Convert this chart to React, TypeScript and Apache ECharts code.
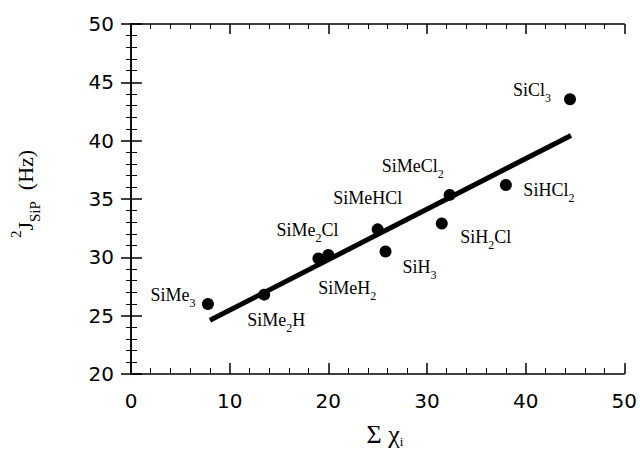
import React, { useEffect, useRef } from "react";
import * as echarts from "echarts";

// Data
const compounds = ["SiMe3", "SiMe2H", "SiMe2Cl", "SiMeH2", "SiMeHCl", "SiH3", "SiH2Cl", "SiMeCl2", "SiHCl2", "SiCl3"];
const sumChi = [7.8, 13.5, 19.0, 20.0, 25.0, 25.8, 31.5, 32.3, 38.0, 44.5];
const jSiP = [26.0, 26.8, 29.9, 30.2, 32.4, 30.5, 32.9, 35.35, 36.2, 43.55];
const fitX = [8.0, 44.6];
const fitY = [24.6, 40.45];
const xTicks = [0, 10, 20, 30, 40, 50];
const yTicks = [20, 25, 30, 35, 40, 45, 50];

// label layout (pixel offsets from each point)
const labelOffsets: [number, number][] = [
  [-35, -9], [12, 25], [-11, -29], [19, 33], [-10, -31],
  [34, 15], [44, 13], [-37, -29], [43, 5], [-38, -9],
];

const SERIF = "'Liberation Serif', 'Times New Roman', serif";
const SANS = "'DejaVu Sans', 'Liberation Sans', sans-serif";

const subify = (s: string) => s.replace(/(\d)/g, "{s|$1}");

function makeAxis(kind: "x" | "y", pos: string, primary: boolean) {
  const ticks = kind === "x" ? xTicks : yTicks;
  return {
    type: "value",
    position: pos,
    min: ticks[0],
    max: ticks[ticks.length - 1],
    interval: ticks[1] - ticks[0],
    axisLine: { show: true, lineStyle: { color: "#000", width: 1.5 } },
    axisTick: { show: true, inside: true, length: primary ? 11 : 10, lineStyle: { color: "#000", width: 1.5 } },
    minorTick: { show: true, splitNumber: 5, length: primary ? 6 : 5, lineStyle: { color: "#000", width: 1 } },
    splitLine: { show: false },
    axisLabel: primary
      ? { show: true, color: "#000", fontFamily: SANS, fontSize: 20, margin: 17 }
      : { show: false },
  };
}

export default function App() {
  const ref = useRef<HTMLDivElement>(null);
  useEffect(() => {
    if (!ref.current) return;
    const chart = echarts.init(ref.current, undefined, { renderer: "svg" });
    chart.setOption({
      animation: false,
      backgroundColor: "#fff",
      grid: { left: 131, right: 15, top: 24, bottom: 77, containLabel: false },
      xAxis: [makeAxis("x", "bottom", true), makeAxis("x", "top", false)],
      yAxis: [makeAxis("y", "left", true), makeAxis("y", "right", false)],
      series: [
        {
          type: "line",
          data: fitX.map((x, i) => [x, fitY[i]]),
          symbol: "none",
          lineStyle: { color: "#000", width: 5 },
          z: 2,
        },
        {
          type: "scatter",
          symbol: "circle",
          symbolSize: 12,
          itemStyle: { color: "#000", opacity: 1 },
          z: 3,
          data: sumChi.map((x, i) => ({
            value: [x, jSiP[i]],
            name: compounds[i],
            label: { offset: labelOffsets[i] },
          })),
          label: {
            show: true,
            position: "inside",
            align: "center",
            verticalAlign: "middle",
            color: "#000",
            fontFamily: SERIF,
            fontSize: 18,
            lineHeight: 28,
            formatter: (p: any) => subify(p.name),
            rich: {
              s: { fontFamily: SERIF, fontSize: 12, lineHeight: 12, verticalAlign: "bottom", color: "#000" },
            },
          },
        },
      ],
      graphic: [
        {
          type: "text",
          x: 385,
          y: 434,
          style: {
            text: "Σ χ{sub|i}",
            fill: "#000",
            fontSize: 26,
            fontFamily: SERIF,
            lineHeight: 28,
            align: "center",
            verticalAlign: "middle",
            rich: {
              sub: { fontFamily: SERIF, fontSize: 13, lineHeight: 12, verticalAlign: "bottom", fill: "#000" },
            },
          },
        },
        {
          type: "text",
          x: 25,
          y: 194,
          rotation: Math.PI / 2,
          style: {
            text: "{sup|2}J{sub|SiP}  (Hz)",
            fill: "#000",
            fontSize: 22,
            fontFamily: SERIF,
            lineHeight: 34,
            align: "center",
            verticalAlign: "middle",
            rich: {
              sup: { fontFamily: SERIF, fontSize: 15, lineHeight: 15, verticalAlign: "top", fill: "#000" },
              sub: { fontFamily: SERIF, fontSize: 15, lineHeight: 15, verticalAlign: "bottom", fill: "#000" },
            },
          },
        },
      ],
    });
    return () => chart.dispose();
  }, []);
  return <div ref={ref} style={{ width: 640, height: 451, position: "absolute", left: 0, top: 0 }} />;
}
